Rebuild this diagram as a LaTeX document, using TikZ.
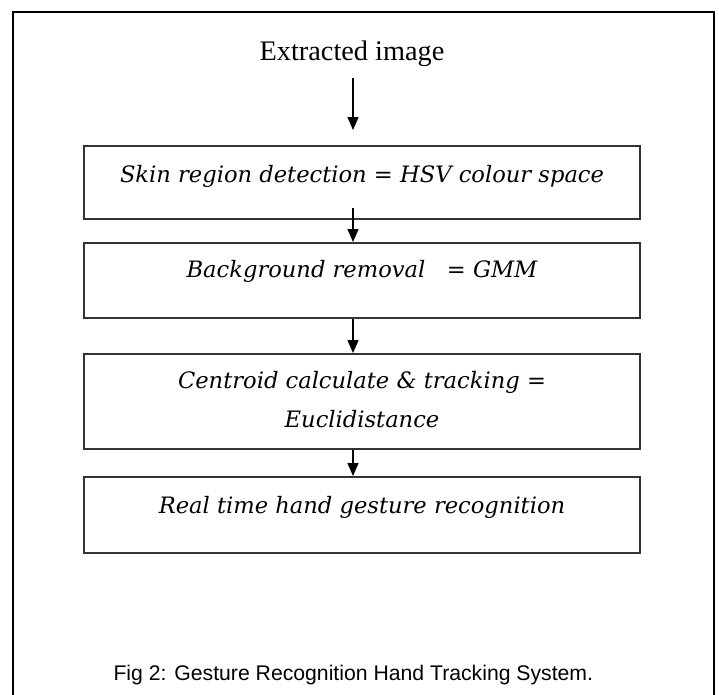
\documentclass[tikz,border=0pt]{standalone}
\usepackage{fontspec}
\setmainfont{Liberation Serif}
\newfontfamily\stagefont{DejaVu Serif}
\newfontfamily\capfont{Liberation Sans}
\usetikzlibrary{arrows.meta,positioning,calc}

\begin{document}
\begin{tikzpicture}[x=1pt,y=-1pt,
    stage/.style={draw=black!80, line width=1.8pt, minimum width=556pt, inner sep=0pt,
      anchor=north, align=center, font=\stagefont\itshape\fontsize{22.6}{39}\selectfont},
    flow/.style={-{Triangle[width=11pt,length=13pt]}, line width=1.2pt}]
    \useasboundingbox (0,0) rectangle (719,694);
    % Frame
    \draw[line width=2pt] (12.5,700) -- (12.5,11.5) -- (714,11.5) -- (714,700);
    % Stages
    \node[anchor=base, font=\fontsize{28.3}{30}\selectfont] (extract) at (352,60) {Extracted image};
    \node[stage, text height=37pt, text depth=36pt] (skin) at (362,145) {Skin region detection = HSV colour space};
    \node[stage, text height=35pt, text depth=40pt] (bg) at (362,242) {Background removal\ \ \ = GMM};
    \node[stage, text height=74pt, text depth=21pt] (centroid) at (362,353) {Centroid calculate \& tracking =\\Euclidistance};
    \node[stage, text height=37pt, text depth=39pt] (real) at (362,476) {Real time hand gesture recognition};
    \node[anchor=base west, font=\capfont\fontsize{21.2}{24}\selectfont] (caption) at (110,680) {Fig 2: Gesture Recognition Hand Tracking System.};
    % Arrows
    \coordinate (axis) at (353,0);
    \draw[flow, shorten >=15pt] (axis |- 0,78) -- (axis |- skin.north);
    \draw[flow] (axis |- 0,208) -- (axis |- bg.north);
    \draw[flow] (axis |- bg.south) -- (axis |- centroid.north);
    \draw[flow] (axis |- centroid.south) -- (axis |- real.north);
\end{tikzpicture}
\end{document}
